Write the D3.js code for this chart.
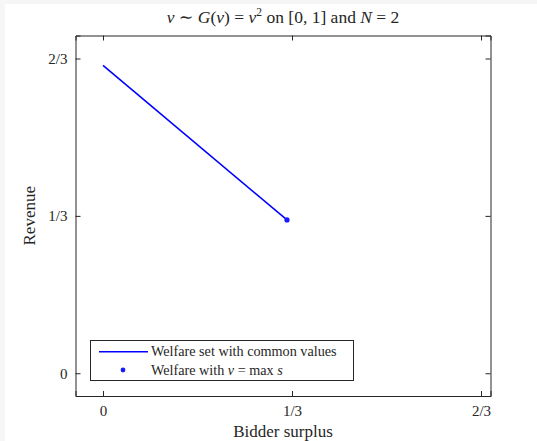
<!DOCTYPE html>
<html>
<head>
<meta charset="utf-8">
<script src="https://cdn.jsdelivr.net/npm/d3@7"></script>
<style>
  body { margin: 0; background: #f6f6f6; }
  svg { display: block; }
  text { font-family: "Liberation Serif", "DejaVu Serif", serif; fill: #262626; }
</style>
</head>
<body>
<svg id="chart" width="537" height="441"></svg>
<script>
// welfare set with common values (bidder surplus, revenue)
var surplus = [0, 0.3245];
var revenue = [0.652, 0.3247];
// welfare with v = max s
var dotSurplus = [0.3245];
var dotRevenue = [0.3247];

var tickVals = [0, 1 / 3, 2 / 3];
var tickLabels = ["0", "1/3", "2/3"];

var svg = d3.select("#chart");

svg.append("rect")
    .attr("x", 5).attr("y", 4)
    .attr("width", 532).attr("height", 437)
    .attr("fill", "#fff");

var pLeft = 75.5, pRight = 490.5, pTop = 35.5, pBottom = 396;

var x = d3.scaleLinear().domain([-0.0485, 0.6834]).range([pLeft, pRight]);
var y = d3.scaleLinear().domain([-0.0482, 0.7154]).range([pBottom, pTop]);

var g = svg.append("g");

// axes with inner ticks on all four sides
g.append("g")
    .attr("transform", "translate(0," + pBottom + ")")
    .call(d3.axisBottom(x).tickValues(tickVals).tickSize(-5).tickFormat(function (d, i) { return tickLabels[i]; }).tickPadding(9));
g.append("g")
    .attr("transform", "translate(0," + pTop + ")")
    .call(d3.axisTop(x).tickValues(tickVals).tickSize(-5).tickFormat(""));
g.append("g")
    .attr("transform", "translate(" + pLeft + ",0)")
    .call(d3.axisLeft(y).tickValues(tickVals).tickSize(-5).tickFormat(function (d, i) { return tickLabels[i]; }).tickPadding(8));
g.append("g")
    .attr("transform", "translate(" + pRight + ",0)")
    .call(d3.axisRight(y).tickValues(tickVals).tickSize(-5).tickFormat(""));

g.selectAll(".domain").attr("stroke", "#262626").attr("stroke-width", 1);
g.selectAll(".tick line").attr("stroke", "#262626");
g.selectAll(".tick text")
    .style("font-family", "'Liberation Serif', 'DejaVu Serif', serif")
    .style("font-size", "15px")
    .attr("fill", "#262626");

// line
var line = d3.line()
    .x(function (d, i) { return x(surplus[i]); })
    .y(function (d, i) { return y(revenue[i]); });

svg.append("path")
    .datum(surplus)
    .attr("d", line)
    .attr("fill", "none")
    .attr("stroke", "#0000ff")
    .attr("stroke-width", 1.6);

svg.selectAll(".dot")
    .data(dotSurplus)
    .enter().append("circle")
    .attr("class", "dot")
    .attr("cx", function (d) { return x(d); })
    .attr("cy", function (d, i) { return y(dotRevenue[i]); })
    .attr("r", 2.6)
    .attr("fill", "#1a1aff");

// title
var title = svg.append("text")
    .attr("x", (pLeft + pRight) / 2)
    .attr("y", 23)
    .attr("text-anchor", "middle")
    .style("font-size", "17.5px");
title.append("tspan").attr("font-style", "italic").text("v");
title.append("tspan").text(" ∼ ");
title.append("tspan").attr("font-style", "italic").text("G");
title.append("tspan").text("(");
title.append("tspan").attr("font-style", "italic").text("v");
title.append("tspan").text(") = ");
title.append("tspan").attr("font-style", "italic").text("v");
title.append("tspan").attr("dy", -7).style("font-size", "11.5px").text("2");
title.append("tspan").attr("dy", 7).text(" on [0, 1] and ");
title.append("tspan").attr("font-style", "italic").text("N");
title.append("tspan").text(" = 2");

// axis labels
svg.append("text")
    .attr("x", (pLeft + pRight) / 2)
    .attr("y", 437)
    .attr("text-anchor", "middle")
    .style("font-size", "17px")
    .text("Bidder surplus");

svg.append("text")
    .attr("transform", "translate(35," + ((pTop + pBottom) / 2) + ") rotate(-90)")
    .attr("text-anchor", "middle")
    .style("font-size", "17px")
    .text("Revenue");

// legend
var legend = svg.append("g");
legend.append("rect")
    .attr("x", 90.5).attr("y", 340.5)
    .attr("width", 263).attr("height", 40)
    .attr("fill", "#fff")
    .attr("stroke", "#262626")
    .attr("stroke-width", 1);
legend.append("line")
    .attr("x1", 99).attr("x2", 148)
    .attr("y1", 351.7).attr("y2", 351.7)
    .attr("stroke", "#0000ff")
    .attr("stroke-width", 1.6);
legend.append("circle")
    .attr("cx", 123).attr("cy", 370)
    .attr("r", 2.4)
    .attr("fill", "#1a1aff");
legend.append("text")
    .attr("x", 151).attr("y", 356)
    .style("font-size", "14.2px")
    .text("Welfare set with common values");
var l2 = legend.append("text")
    .attr("x", 151).attr("y", 374.5)
    .style("font-size", "14.2px");
l2.append("tspan").text("Welfare with ");
l2.append("tspan").attr("font-style", "italic").text("v");
l2.append("tspan").text(" = max ");
l2.append("tspan").attr("font-style", "italic").text("s");
</script>
</body>
</html>
